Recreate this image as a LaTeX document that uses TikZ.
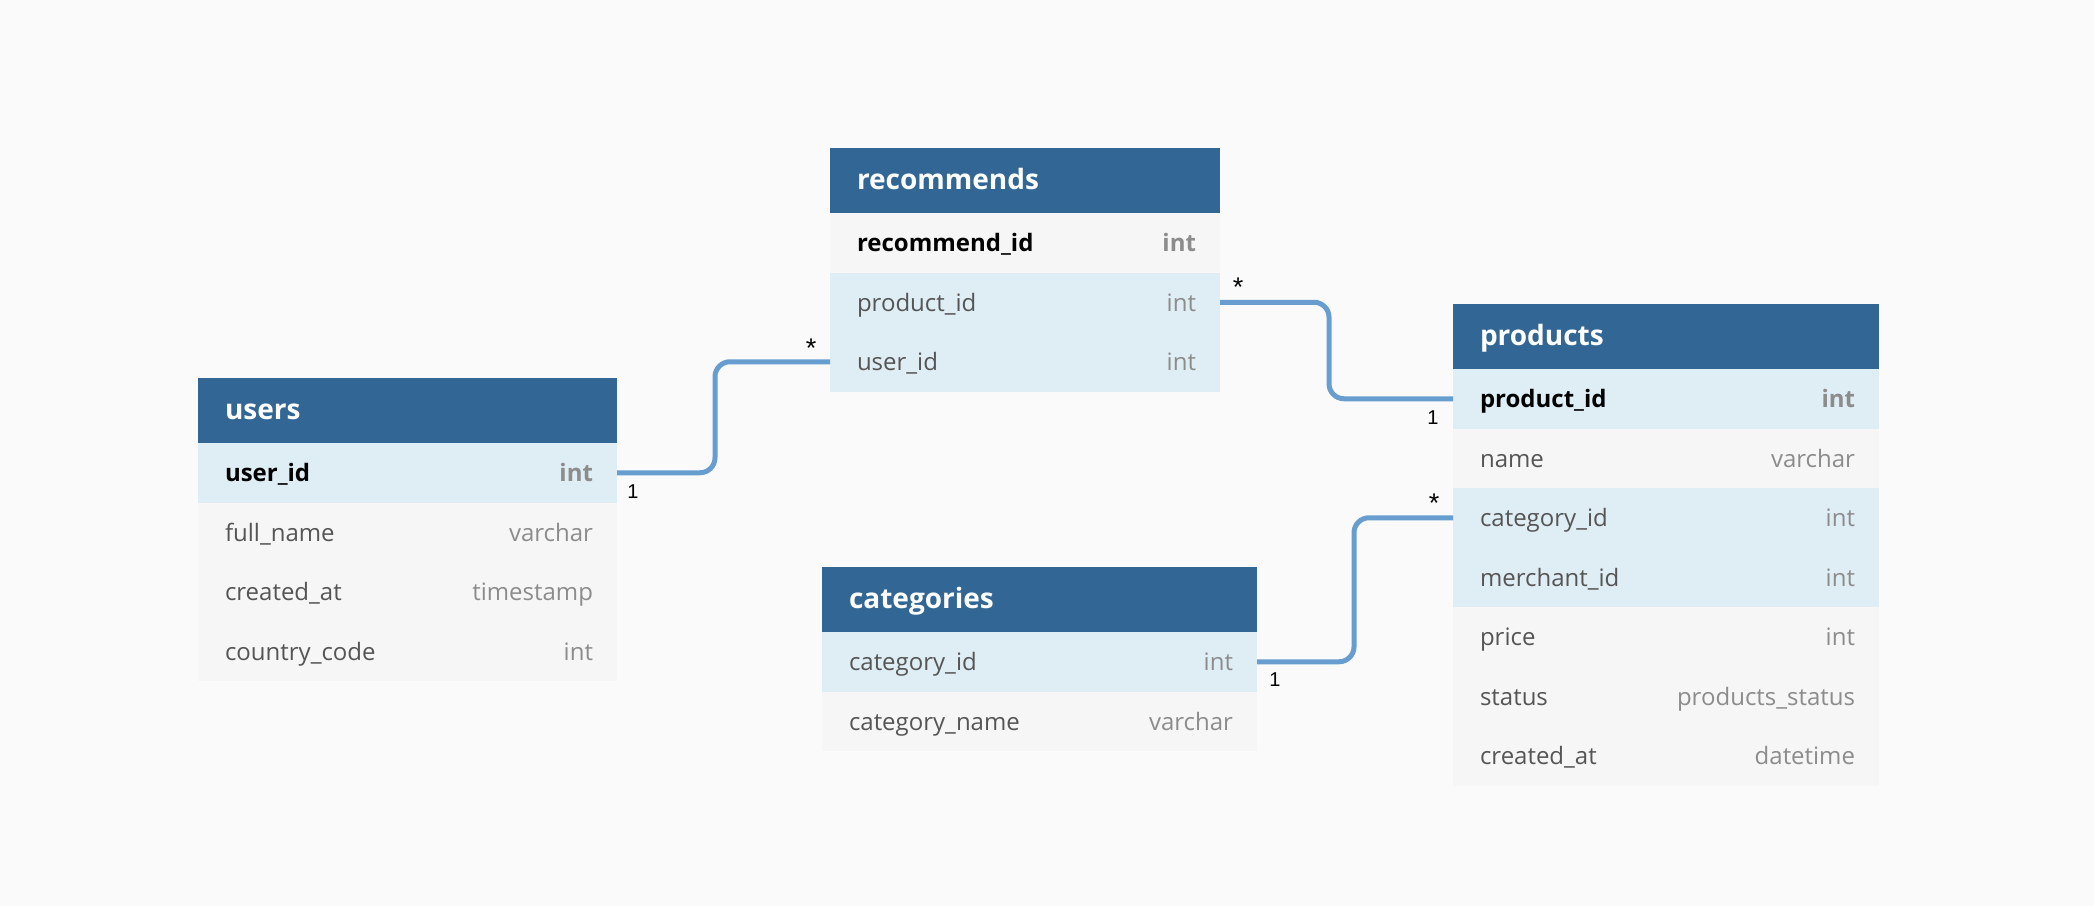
\documentclass[tikz,border=0pt]{standalone}
\usepackage{fontspec}
\setmainfont{Open Sans}
\newfontfamily\cardfont{Liberation Sans}
\usepackage{xcolor}
\usetikzlibrary{calc,positioning}

\definecolor{bgcol}{RGB}{250,250,250}
\definecolor{headblue}{RGB}{50,103,149}
\definecolor{rowblue}{RGB}{223,237,245}
\definecolor{rowgray}{RGB}{246,246,246}
\definecolor{fieldgray}{RGB}{85,85,85}
\definecolor{typegray}{RGB}{140,140,140}
\definecolor{linkblue}{RGB}{104,158,207}

\tikzset{
  tablehead/.style={fill=headblue, text=white, font=\fontsize{28}{32}\selectfont\bfseries,
    minimum height=65pt, inner xsep=27pt, inner ysep=0pt, outer sep=0pt,
    text width=#1, align=left, text height=22pt, text depth=4pt},
  fieldrow/.style={font=\fontsize{24}{28}\selectfont, text=fieldgray,
    minimum height=59.5pt, inner xsep=27pt, inner ysep=0pt, outer sep=0pt,
    text width=#1, align=left, text height=22pt, text depth=4pt},
  onblue/.style={fill=rowblue},
  ongray/.style={fill=rowgray},
  pk/.style={font=\fontsize{24}{28}\selectfont\bfseries, text=black},
  ftype/.style={font=\fontsize{24}{28}\selectfont, text=typegray, inner sep=0pt, outer sep=0pt,
    text height=22pt, text depth=4pt},
  pktype/.style={ftype, font=\fontsize{24}{28}\selectfont\bfseries},
  rel/.style={draw=linkblue, line width=5pt, rounded corners=15pt},
  card/.style={font=\cardfont\fontsize{20}{24}\selectfont, text=black, inner sep=0pt},
  manycard/.style={card, font=\cardfont\fontsize{27}{30}\selectfont}
}

\begin{document}
\begin{tikzpicture}[x=1pt, y=-1pt]
\fill[bgcol] (0,0) rectangle (2094,906);

% users
\node[tablehead=365pt, anchor=north west](u) at (198,378) {users};
\node[fieldrow=365pt, onblue, pk, below=0pt of u](u1) {user\_id};
\node[fieldrow=365pt, ongray, below=0pt of u1](u2) {full\_name};
\node[fieldrow=365pt, ongray, below=0pt of u2](u3) {created\_at};
\node[fieldrow=365pt, ongray, below=0pt of u3](u4) {country\_code};
\node[pktype, left=24pt of u1.east](u1t) {int};
\node[ftype, left=24pt of u2.east](u2t) {varchar};
\node[ftype, left=24pt of u3.east](u3t) {timestamp};
\node[ftype, left=24pt of u4.east](u4t) {int};

% recommends
\node[tablehead=336pt, anchor=north west](r) at (830,148) {recommends};
\node[fieldrow=336pt, ongray, pk, below=0pt of r](r1) {recommend\_id};
\node[fieldrow=336pt, onblue, below=0pt of r1](r2) {product\_id};
\node[fieldrow=336pt, onblue, below=0pt of r2](r3) {user\_id};
\node[pktype, left=24pt of r1.east](r1t) {int};
\node[ftype, left=24pt of r2.east](r2t) {int};
\node[ftype, left=24pt of r3.east](r3t) {int};

% products
\node[tablehead=372pt, anchor=north west](p) at (1453,304) {products};
\node[fieldrow=372pt, onblue, pk, below=0pt of p](p1) {product\_id};
\node[fieldrow=372pt, ongray, below=0pt of p1](p2) {name};
\node[fieldrow=372pt, onblue, below=0pt of p2](p3) {category\_id};
\node[fieldrow=372pt, onblue, below=0pt of p3](p4) {merchant\_id};
\node[fieldrow=372pt, ongray, below=0pt of p4](p5) {price};
\node[fieldrow=372pt, ongray, below=0pt of p5](p6) {status};
\node[fieldrow=372pt, ongray, below=0pt of p6](p7) {created\_at};
\node[pktype, left=24pt of p1.east](p1t) {int};
\node[ftype, left=24pt of p2.east](p2t) {varchar};
\node[ftype, left=24pt of p3.east](p3t) {int};
\node[ftype, left=24pt of p4.east](p4t) {int};
\node[ftype, left=24pt of p5.east](p5t) {int};
\node[ftype, left=24pt of p6.east](p6t) {products\_status};
\node[ftype, left=24pt of p7.east](p7t) {datetime};

% categories
\node[tablehead=381pt, anchor=north west](c) at (822,567) {categories};
\node[fieldrow=381pt, onblue, below=0pt of c](c1) {category\_id};
\node[fieldrow=381pt, ongray, below=0pt of c1](c2) {category\_name};
\node[ftype, left=24pt of c1.east](c1t) {int};
\node[ftype, left=24pt of c2.east](c2t) {varchar};

% references
\draw[rel] (u1.east) -- ++(98,0) |- (r3.west);
\draw[rel] (r2.east) -- ++(109,0) |- (p1.west);
\draw[rel] (c1.east) -- ++(97,0) |- (p3.west);

\node[card] at ($(u1.east)+(16,19)$) {1};
\node[manycard] at ($(r3.west)+(-19,-14)$) {*};
\node[manycard] at ($(r2.east)+(18,-15)$) {*};
\node[card] at ($(p1.west)+(-20,19)$) {1};
\node[manycard] at ($(p3.west)+(-19,-15)$) {*};
\node[card] at ($(c1.east)+(18,18)$) {1};
\end{tikzpicture}
\end{document}
